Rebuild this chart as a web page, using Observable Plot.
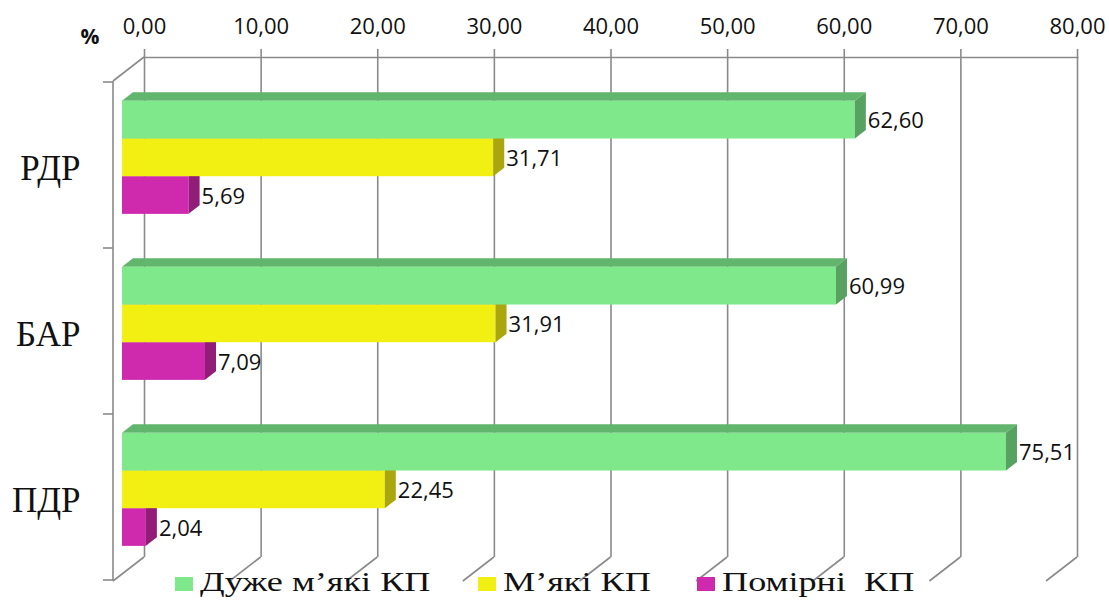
<!DOCTYPE html>
<html>
<head>
<meta charset="utf-8">
<script src="https://cdn.jsdelivr.net/npm/d3@7"></script>
<script src="https://cdn.jsdelivr.net/npm/@observablehq/plot@0.6"></script>
<style>
  body { margin: 0; background: #fff; }
  #wrap { position: relative; width: 1109px; height: 601px; overflow: hidden; background: #fff; }
  .lg-sq { position: absolute; top: 577px; width: 18px; height: 14px; }
  .lg-tx { position: absolute; top: 569px; font-family: "Liberation Serif", "Times New Roman", serif; font-size: 27px; line-height: 27px; color: #111; white-space: pre; transform: scaleX(1.34); transform-origin: left center; }
</style>
</head>
<body>
<div id="wrap"></div>
<script>
// ---- data ----
const categories = ["РДР", "БАР", "ПДР"];
const seriesNames = ["Дуже м’які КП", "М’які КП", "Помірні  КП"];
const veryMild = [62.60, 60.99, 75.51];
const mild = [31.71, 31.91, 22.45];
const moderate = [5.69, 7.09, 2.04];
const xTicks = [0, 10, 20, 30, 40, 50, 60, 70, 80];
const axisUnit = "%";
const colors = ["#7ee88a", "#f2ef13", "#cf2aad"];

// ---- build table (draw order: lower series first so upper bars overlap correctly) ----
const seriesValues = [veryMild, mild, moderate];
const rows = [];
for (let s = seriesNames.length - 1; s >= 0; s--) {
  categories.forEach((c, i) => rows.push({cat: c, series: seriesNames[s], si: s, value: seriesValues[s][i]}));
}
const fmt = v => v.toFixed(2).replace(".", ",");
const GRID = "#8a8a8a";
const DX = -31, DY = 24;      // perspective offset between back wall and front
const FX = 11, FY = 8.5;      // bar depth

function frontX(scales, v) {
  const x0 = scales.x(0);
  return x0 - 22 + (scales.x(v) - x0) * 1.0038;
}
function bandStep(scales) {
  return scales.y(categories[1]) - scales.y(categories[0]);
}

function bars3d(index, scales, values, dims) {
  const g = d3.create("svg:g");
  const gt = d3.create("svg:g").attr("text-anchor", "start");
  const bw = bandStep(scales);
  const h = bw * 0.227;
  for (const i of index) {
    const d = rows[i];
    const top = scales.y(d.cat) + bw * (0.258 + 0.227 * d.si);
    const l = frontX(scales, 0), r = frontX(scales, d.value);
    const c = d3.color(scales.color(d.series));
    g.append("path")
      .attr("d", `M${l},${top}L${l + FX},${top - FY}L${r + FX},${top - FY}L${r},${top}Z`)
      .attr("fill", c.darker(0.7).formatHex());
    g.append("rect").attr("x", l).attr("y", top).attr("width", r - l).attr("height", h).attr("fill", c.formatHex());
    g.append("path")
      .attr("d", `M${r},${top}L${r + FX},${top - FY}L${r + FX},${top + h - FY}L${r},${top + h}Z`)
      .attr("fill", c.darker(1.0).formatHex());
    gt.append("text")
      .attr("x", r + 13).attr("y", top + h / 2 + 1)
      .attr("dy", "0.35em")
      .attr("font-size", 22).attr("fill", "#111")
      .text(fmt(d.value));
  }
  g.append(() => gt.node());
  return g.node();
}

function bottomDiagonals(index, scales, values, dims) {
  const g = d3.create("svg:g").attr("stroke", GRID).attr("stroke-width", 1.6).attr("fill", "none");
  const yb = dims.height - dims.marginBottom;
  for (const i of index) {
    const x = values.x[i];
    g.append("line").attr("x1", x).attr("y1", yb).attr("x2", x + DX).attr("y2", yb + DY);
  }
  const x0 = scales.x(0), yt = dims.marginTop;
  g.append("line").attr("x1", x0).attr("y1", yt).attr("x2", x0 + DX).attr("y2", yt + DY);
  return g.node();
}

function frontAxis(index, scales, values, dims) {
  const g = d3.create("svg:g").attr("stroke", GRID).attr("stroke-width", 1.6).attr("fill", "none");
  const x = scales.x(0) + DX;
  const yt = dims.marginTop + DY, yb = dims.height - dims.marginBottom + DY;
  g.append("line").attr("x1", x).attr("y1", yt).attr("x2", x).attr("y2", yb);
  const bw = bandStep(scales);
  const ys = categories.map(c => scales.y(c) + DY);
  ys.push(scales.y(categories[categories.length - 1]) + bw + DY);
  for (const y of ys) g.append("line").attr("x1", x - 10).attr("y1", y).attr("x2", x).attr("y2", y);
  return g.node();
}

const chart = Plot.plot({
  width: 1109,
  height: 601,
  marginTop: 57,
  marginBottom: 44,
  marginLeft: 144,
  marginRight: 32,
  style: {fontFamily: "'Open Sans', sans-serif", background: "transparent", overflow: "visible", color: "#111"},
  x: {domain: [0, 80]},
  y: {domain: categories, padding: 0},
  color: {domain: seriesNames, range: colors},
  marks: [
    Plot.gridX(xTicks, {stroke: GRID, strokeOpacity: 1, strokeWidth: 1.6}),
    Plot.frame({anchor: "top", stroke: GRID, strokeWidth: 1.6}),
    Plot.ruleX(xTicks, {x: d => d, render: bottomDiagonals}),
    Plot.ruleY(categories, {y: d => d, render: frontAxis}),
    Plot.axisX(xTicks, {anchor: "top", tickSize: 9, tickPadding: 15, tickFormat: fmt, fontSize: 22, stroke: GRID, strokeWidth: 1.6, fill: "#111", label: null}),
    Plot.axisY({tickSize: 0, tickPadding: 64, dy: 27, fontSize: 35, fontFamily: "'Liberation Serif', serif", fill: "#111", label: null}),
    Plot.text([axisUnit], {text: d => d, frameAnchor: "top-left", dx: -64, dy: -28, fontSize: 21, fontWeight: "bold", fill: "#111"}),
    Plot.barX(rows, {x1: 0, x2: "value", y: "cat", fill: "series", render: bars3d})
  ]
});

const wrap = document.getElementById("wrap");
wrap.appendChild(chart);

// legend (HTML, overlaid at the bottom)
const legendLeft = [175, 478, 697];
seriesNames.forEach((name, i) => {
  const sq = document.createElement("div");
  sq.className = "lg-sq";
  sq.style.left = legendLeft[i] + "px";
  sq.style.background = colors[i];
  wrap.appendChild(sq);
  const tx = document.createElement("div");
  tx.className = "lg-tx";
  tx.style.left = (legendLeft[i] + 25) + "px";
  tx.textContent = name;
  wrap.appendChild(tx);
});
</script>
</body>
</html>
